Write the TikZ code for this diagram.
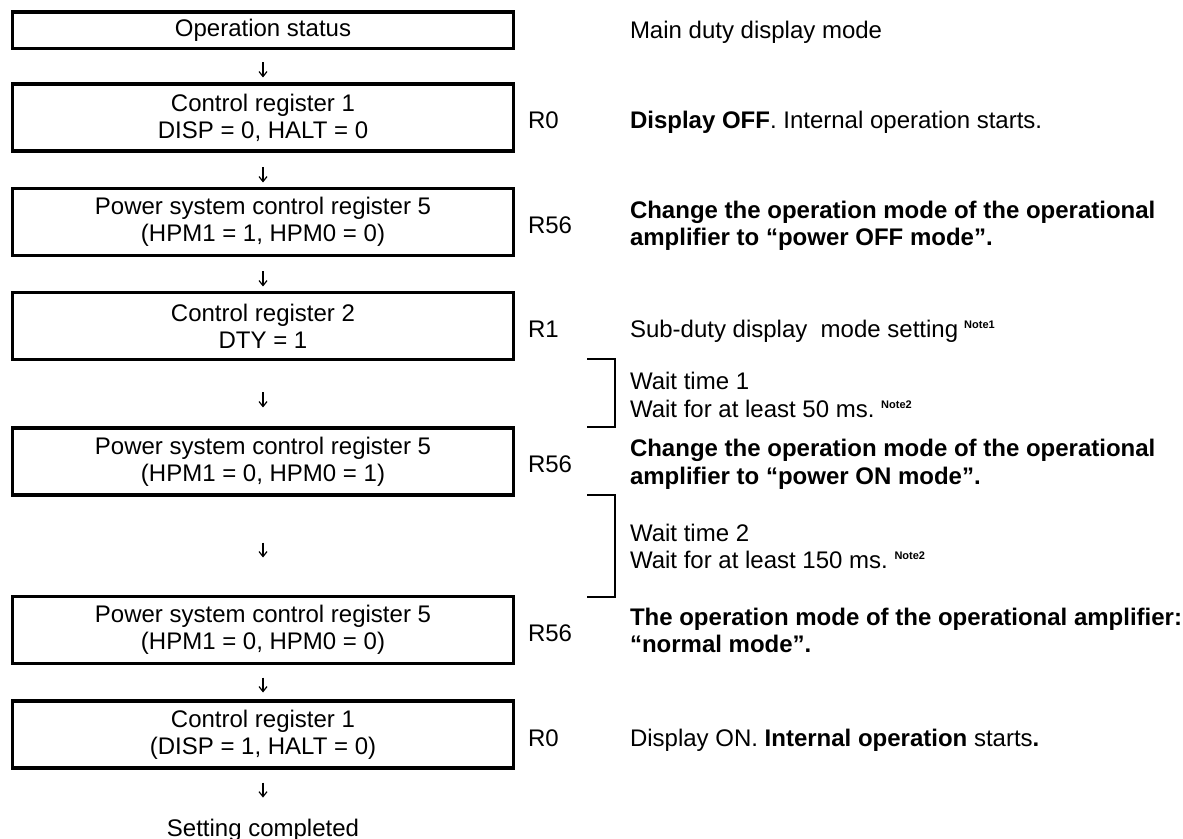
\documentclass[tikz,border=0pt]{standalone}
\usepackage{fontspec}
\setmainfont{Liberation Sans}
\usetikzlibrary{arrows.meta}
\frenchspacing
\newcommand{\notemark}[1]{\raisebox{4.5pt}{\fontsize{5.5}{6}\selectfont\bfseries #1}}
\begin{document}
\begin{tikzpicture}[x=0.5pt,y=-0.5pt,
  every node/.style={inner sep=0pt, outer sep=0pt, font=\fontsize{12}{13.5}\selectfont},
  box/.style={draw, line width=1.75pt, minimum width=250.5pt, minimum height=33.5pt, align=center},
  flow/.style={line width=0.6pt, -{Straight Barb[length=2.5pt,width=4pt]}},
  brk/.style={line width=1pt},
  rlab/.style={anchor=base west},
  desc/.style={anchor=base west}]
\useasboundingbox (0,0) rectangle (1183,839);

% flow boxes
\node[box, minimum height=18.25pt] (b1) at (263,30.25) {Operation status};
\node[box] (b2) at (263,117.5) {Control register 1\\DISP = 0, HALT = 0};
\node[box] (b3) at (263,222) {Power system control register 5\\(HPM1 = 1, HPM0 = 0)};
\node[box] (b4) at (263,326) {Control register 2\\DTY = 1};
\node[box] (b5) at (263,461.5) {Power system control register 5\\(HPM1 = 0, HPM0 = 1)};
\node[box] (b6) at (263,630) {Power system control register 5\\(HPM1 = 0, HPM0 = 0)};
\node[box] (b7) at (263,734.5) {Control register 1\\(DISP = 1, HALT = 0)};
\node[anchor=base] (done) at (263,836) {Setting completed};

% arrows
\draw[flow, shorten <=7pt, shorten >=3.25pt] (b1.south) -- (b2.north);
\draw[flow, shorten <=8.25pt, shorten >=3pt] (b2.south) -- (b3.north);
\draw[flow, shorten <=8pt, shorten >=3pt] (b3.south) -- (b4.north);
\draw[flow, shorten <=16.5pt, shorten >=10.25pt] (b4.south) -- (b5.north);
\draw[flow, shorten <=23.75pt, shorten >=19.5pt] (b5.south) -- (b6.north);
\draw[flow, shorten <=7pt, shorten >=4.25pt] (b6.south) -- (b7.north);
\draw[flow, shorten <=7.25pt, shorten >=10.5pt] (b7.south) -- (done.north);

% register labels
\node[rlab] (r2) at (528,129) {R0};
\node[rlab] (r3) at (528,233.5) {R56};
\node[rlab] (r4) at (528,337.5) {R1};
\node[rlab] (r5) at (528,473) {R56};
\node[rlab] (r6) at (528,641.5) {R56};
\node[rlab] (r7) at (528,746) {R0};

% descriptions
\node[desc] (d1) at (630,39) {Main duty display mode};
\node[desc] (d2) at (630,129) {\textbf{Display OFF}. Internal operation starts.};
\node[desc] (d3a) at (630,219) {\bfseries Change the operation mode of the operational};
\node[desc] (d3b) at (630,246) {\bfseries amplifier to “power OFF mode”.};
\node[desc] (d4) at (630,337.5) {Sub-duty display~ mode setting\hspace{3pt}\notemark{Note1}};
\node[desc] (w1a) at (630,390) {Wait time 1};
\node[desc] (w1b) at (630,417) {Wait for at least 50 ms. \notemark{Note2}};
\node[desc] (d5a) at (630,457) {\bfseries Change the operation mode of the operational};
\node[desc] (d5b) at (630,484) {\bfseries amplifier to “power ON mode”.};
\node[desc] (w2a) at (630,541) {Wait time 2};
\node[desc] (w2b) at (630,568) {Wait for at least 150 ms. \notemark{Note2}};
\node[desc] (d6a) at (630,625.5) {\bfseries The operation mode of the operational amplifier:};
\node[desc] (d6b) at (630,652.5) {\bfseries “normal mode”.};
\node[desc] (d7) at (630,746) {Display ON. \textbf{Internal operation} starts\textbf{.}};

% wait brackets
\coordinate (k1a) at (587,359.5);
\coordinate (k1b) at (587,427.5);
\coordinate (k2a) at (587,495);
\coordinate (k2b) at (587,596.5);
\draw[brk] (k1a) -- ++(28,0) |- (k1b);
\draw[brk] (k2a) -- ++(28,0) |- (k2b);
\end{tikzpicture}
\end{document}
